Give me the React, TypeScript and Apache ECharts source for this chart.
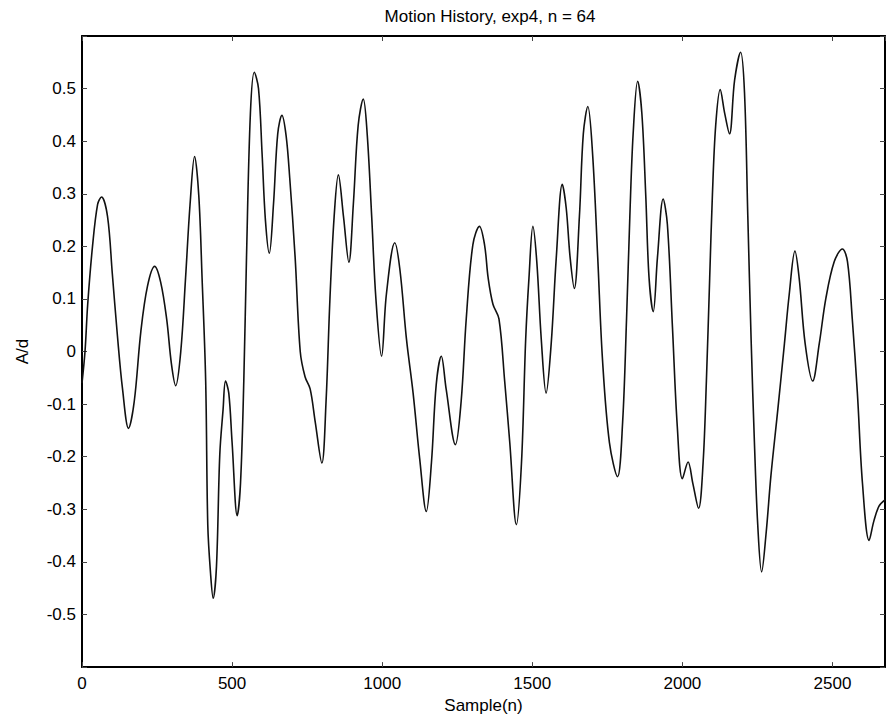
import React, { useEffect, useRef } from "react";
import * as echarts from "echarts";

const titleText = "Motion History, exp4, n = 64";
const xName = "Sample(n)";
const yName = "A/d";

const sampleX = [0, 10, 19, 35, 52, 65, 85, 101, 118, 135, 155, 174, 196, 218, 242, 262, 282, 298, 312, 329, 345, 360, 375, 389, 400, 412, 419, 428, 437, 448, 459, 470, 478, 489, 500, 517, 528, 539, 548, 561, 574, 588, 600, 611, 624, 638, 652, 666, 680, 692, 710, 727, 743, 760, 777, 799, 813, 826, 840, 854, 871, 889, 904, 920, 937, 950, 965, 979, 998, 1014, 1042, 1059, 1081, 1103, 1125, 1147, 1164, 1180, 1197, 1213, 1244, 1263, 1280, 1302, 1324, 1341, 1353, 1369, 1389, 1408, 1425, 1447, 1464, 1478, 1489, 1502, 1515, 1530, 1546, 1563, 1580, 1600, 1613, 1626, 1640, 1657, 1670, 1685, 1701, 1718, 1734, 1757, 1784, 1801, 1814, 1825, 1836, 1851, 1865, 1878, 1889, 1903, 1917, 1936, 1950, 1967, 1983, 2000, 2019, 2035, 2054, 2069, 2080, 2091, 2100, 2111, 2126, 2141, 2157, 2174, 2194, 2207, 2218, 2229, 2240, 2251, 2264, 2279, 2295, 2318, 2340, 2356, 2375, 2389, 2409, 2434, 2456, 2478, 2506, 2533, 2550, 2566, 2583, 2600, 2622, 2638, 2655, 2675];

const amplitude = [-0.06, 0.0, 0.09, 0.2, 0.28, 0.294, 0.257, 0.148, 0.03, -0.071, -0.146, -0.095, 0.038, 0.124, 0.162, 0.132, 0.062, -0.024, -0.065, 0.0, 0.14, 0.28, 0.371, 0.297, 0.14, -0.056, -0.33, -0.42, -0.469, -0.408, -0.196, -0.11, -0.056, -0.079, -0.173, -0.312, -0.251, -0.056, 0.179, 0.453, 0.531, 0.5, 0.375, 0.25, 0.187, 0.281, 0.414, 0.449, 0.41, 0.33, 0.179, 0.0, -0.048, -0.071, -0.134, -0.212, -0.095, 0.101, 0.257, 0.336, 0.257, 0.17, 0.281, 0.43, 0.48, 0.414, 0.257, 0.101, -0.009, 0.109, 0.207, 0.156, 0.023, -0.079, -0.204, -0.304, -0.212, -0.063, -0.009, -0.071, -0.177, -0.095, 0.062, 0.203, 0.238, 0.203, 0.14, 0.09, 0.062, -0.056, -0.173, -0.329, -0.212, 0.023, 0.14, 0.238, 0.171, 0.023, -0.079, 0.015, 0.179, 0.318, 0.273, 0.179, 0.12, 0.257, 0.414, 0.466, 0.375, 0.179, -0.016, -0.173, -0.238, -0.134, 0.062, 0.257, 0.414, 0.514, 0.453, 0.297, 0.14, 0.076, 0.179, 0.29, 0.242, 0.046, -0.142, -0.242, -0.21, -0.251, -0.298, -0.212, -0.056, 0.14, 0.297, 0.43, 0.498, 0.453, 0.414, 0.516, 0.569, 0.492, 0.257, 0.023, -0.173, -0.329, -0.419, -0.345, -0.236, -0.11, 0.015, 0.109, 0.191, 0.14, 0.015, -0.056, 0.015, 0.101, 0.171, 0.195, 0.171, 0.062, -0.079, -0.251, -0.359, -0.322, -0.294, -0.282];

const X_MIN = 0;
const X_MAX = 2675;
const X_STEP = 500;
const Y_MIN = -0.6;
const Y_MAX = 0.6;
const Y_STEP = 0.1;

const FONT = "'Liberation Sans', Arial, Helvetica, sans-serif";

export default function App() {
  const ref = useRef<HTMLDivElement>(null);

  useEffect(() => {
    if (!ref.current) return;
    const chart = echarts.init(ref.current, undefined, { renderer: "svg" });
    const axisLine = { show: true, onZero: false, lineStyle: { color: "#000", width: 2 } };
    const tick = { show: true, inside: true, length: 5, lineStyle: { color: "#444", width: 1 } };
    const labelStyle = { color: "#000", fontSize: 17, fontFamily: FONT };
    const yFmt = (v: number) => {
      if (Math.abs(v) > 0.55) return "";
      const r = Math.round(v * 10) / 10;
      return r === 0 ? "0" : String(r);
    };
    const xFmt = (v: number) => String(Math.round(v));
    chart.setOption({
      animation: false,
      backgroundColor: "#fff",
      title: {
        text: titleText,
        left: 485,
        top: 3,
        textAlign: "center",
        textStyle: { color: "#000", fontSize: 17, fontWeight: "normal", fontFamily: FONT },
      },
      grid: { left: 82, top: 36, right: 1, bottom: 48, containLabel: false },
      xAxis: [
        {
          type: "value",
          position: "bottom",
          min: X_MIN,
          max: X_MAX,
          interval: X_STEP,
          axisLine,
          axisTick: tick,
          splitLine: { show: false },
          axisLabel: { ...labelStyle, margin: 8, showMaxLabel: false, formatter: xFmt },
          name: xName,
          nameLocation: "middle",
          nameGap: 27,
          nameTextStyle: labelStyle,
        },
        {
          type: "value",
          position: "top",
          min: X_MIN,
          max: X_MAX,
          interval: X_STEP,
          axisLine,
          axisTick: tick,
          splitLine: { show: false },
          axisLabel: { show: false },
        },
      ],
      yAxis: [
        {
          type: "value",
          position: "left",
          min: Y_MIN,
          max: Y_MAX,
          interval: Y_STEP,
          axisLine,
          axisTick: tick,
          splitLine: { show: false },
          axisLabel: { ...labelStyle, margin: 6, formatter: yFmt },
          name: yName,
          nameLocation: "middle",
          nameRotate: 90,
          nameGap: 51,
          nameTextStyle: labelStyle,
        },
        {
          type: "value",
          position: "right",
          min: Y_MIN,
          max: Y_MAX,
          interval: Y_STEP,
          axisLine,
          axisTick: tick,
          splitLine: { show: false },
          axisLabel: { show: false },
        },
      ],
      series: [
        {
          type: "line",
          xAxisIndex: 0,
          yAxisIndex: 0,
          data: sampleX.map((x, i) => [x, amplitude[i]]),
          showSymbol: false,
          smooth: 0.35,
          lineStyle: { color: "#111", width: 1.6 },
        },
      ],
    });
    return () => chart.dispose();
  }, []);

  return (
    <div
      ref={ref}
      style={{ position: "fixed", left: 0, top: 0, width: 886, height: 719, background: "#fff" }}
    />
  );
}
